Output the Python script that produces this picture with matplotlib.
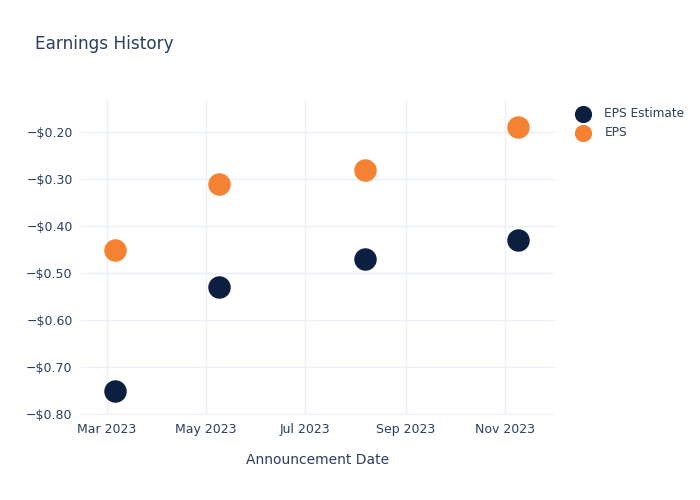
import matplotlib
matplotlib.use('Agg')
import matplotlib.pyplot as plt
import matplotlib.dates as mdates
import pandas as pd

# 데이터
dates = pd.to_datetime(['2023-03-06', '2023-05-09', '2023-08-07', '2023-11-09'])
eps_estimate = [-0.75, -0.53, -0.47, -0.43]
eps_actual = [-0.45, -0.31, -0.28, -0.19]

text_color = '#2a3f5f'
grid_color = '#ebf0f8'

fig = plt.figure(figsize=(7, 5), dpi=100)
ax = fig.add_axes([81 / 700, 1 - 415 / 500, (555 - 81) / 700, (415 - 100) / 500])

ax.scatter(dates, eps_estimate, s=230, color='#0c1f40', label='EPS Estimate', zorder=3)
ax.scatter(dates, eps_actual, s=230, color='#f58233', label='EPS', zorder=3)

ax.set_xlim(pd.Timestamp('2023-02-13'), pd.Timestamp('2023-12-02'))
ax.set_ylim(-0.802, -0.132)

ax.xaxis.set_major_locator(mdates.MonthLocator(bymonth=[3, 5, 7, 9, 11]))
ax.xaxis.set_major_formatter(mdates.DateFormatter('%b %Y'))
ax.set_yticks([-0.8, -0.7, -0.6, -0.5, -0.4, -0.3, -0.2])
ax.set_yticklabels(['\u2212$%.2f' % abs(v) for v in ax.get_yticks()])

ax.grid(True, color=grid_color, linewidth=1)
ax.set_axisbelow(True)
for s in ax.spines.values():
    s.set_visible(False)
ax.tick_params(length=0, labelsize=9, colors=text_color, pad=6)

ax.set_xlabel('Announcement Date', fontsize=10, color=text_color, labelpad=12)
fig.text(35 / 700, 1 - 44 / 500, 'Earnings History', fontsize=12.2, color=text_color, va='center')

ax.legend(loc='upper left', bbox_to_anchor=(1.011, 1.013), frameon=False, fontsize=8.7,
          labelcolor=text_color, markerscale=0.75, handletextpad=0.75, labelspacing=0.5)

fig.savefig('out.png', dpi=100)
